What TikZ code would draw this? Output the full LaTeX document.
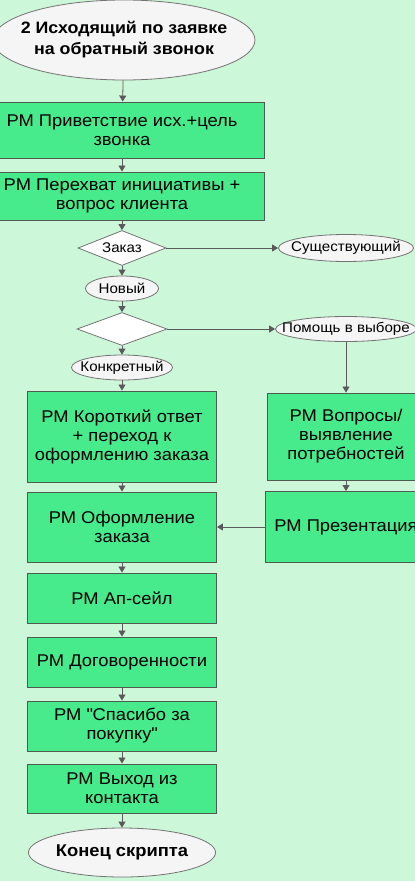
\documentclass[tikz,border=0pt]{standalone}
\usepackage{fontspec}
\setmainfont{Liberation Sans}[FakeStretch=1.08]
\usetikzlibrary{shapes.geometric,arrows.meta}
\definecolor{bgcol}{HTML}{CCF7D8}
\definecolor{boxcol}{HTML}{48EB8C}
\definecolor{edgecol}{HTML}{4E5A52}
\definecolor{linecol}{HTML}{5A5A5A}
\begin{document}
\begin{tikzpicture}[x=1pt,y=-1pt,
    stepbox/.style={rectangle,draw=edgecol,line width=0.9pt,fill=boxcol,align=center,
        inner sep=0pt,font=\fontsize{17}{19}\selectfont},
    oval/.style={ellipse,draw=black!55,line width=0.8pt,fill=black!4,inner sep=0pt,
        font=\fontsize{14}{16}\selectfont},
    choice/.style={diamond,draw=black!55,line width=0.8pt,fill=white,inner sep=0pt,
        font=\fontsize{14}{16}\selectfont},
    arr/.style={draw=linecol,line width=0.8pt,-{Triangle[length=6pt,width=7pt]}}]
        \fill[bgcol] (0,0) rectangle (415,881);
        \useasboundingbox (0,0) rectangle (415,881);

        \node[oval,minimum width=262pt,minimum height=80pt,
            font=\bfseries\fontsize{16.5}{21}\selectfont] (start) at (124,40)
            {\makebox[0pt]{\begin{tabular}{@{}c@{}}2 Исходящий по заявке\\на обратный звонок\end{tabular}}};

        \node[stepbox,minimum width=284pt,minimum height=56pt] (greet) at (122,130)
            {РМ Приветствие исх.+цель\\звонка};
        \node[stepbox,minimum width=284pt,minimum height=48pt] (catch) at (122,196)
            {РМ Перехват инициативы +\\вопрос клиента};

        \node[choice,minimum width=88pt,minimum height=35pt] (order) at (122,248)
            {\makebox[0pt]{Заказ}};
        \node[oval,minimum width=135pt,minimum height=27pt] (old) at (346,248)
            {\makebox[0pt]{Существующий}};
        \node[oval,minimum width=73pt,minimum height=25pt] (new) at (122,288.5)
            {\makebox[0pt]{Новый}};

        \node[choice,minimum width=90pt,minimum height=33pt] (kind) at (122,329) {};
        \node[oval,minimum width=141pt,minimum height=25pt] (help) at (346,329)
            {\makebox[0pt]{Помощь в выборе}};
        \node[oval,minimum width=101pt,minimum height=25pt] (exact) at (122,367.5)
            {\makebox[0pt]{Конкретный}};

        \node[stepbox,minimum width=189pt,minimum height=91pt] (short) at (122,436.5)
            {РМ Короткий ответ\\+ переход к\\оформлению заказа};
        \node[stepbox,minimum width=158pt,minimum height=87pt] (quest) at (346,436.5)
            {РМ Вопросы/\\выявление\\потребностей};
        \node[stepbox,minimum width=189pt,minimum height=70pt] (form) at (122,527)
            {РМ Оформление\\заказа};
        \node[stepbox,minimum width=162pt,minimum height=71pt] (pres) at (346,527)
            {РМ Презентация};
        \node[stepbox,minimum width=189pt,minimum height=50pt] (upsell) at (122,598)
            {РМ Ап-сейл};
        \node[stepbox,minimum width=189pt,minimum height=50pt] (deal) at (122,662)
            {РМ Договоренности};
        \node[stepbox,minimum width=189pt,minimum height=50pt] (thanks) at (122,726)
            {РМ \textquotedbl Спасибо за\\покупку\textquotedbl};
        \node[stepbox,minimum width=189pt,minimum height=49pt] (leave) at (122,788.5)
            {РМ Выход из\\контакта};
        \node[oval,minimum width=179pt,minimum height=49pt,
            font=\bfseries\fontsize{17}{20}\selectfont] (stop) at (122,852.5)
            {Конец скрипта};

        \draw[arr] (start) -- (greet);
        \draw[arr] (greet) -- (catch);
        \draw[arr] (catch) -- (order);
        \draw[arr] (order) -- (old);
        \draw[arr] (order) -- (new);
        \draw[arr] (new) -- (kind);
        \draw[arr] (kind) -- (help);
        \draw[arr] (kind) -- (exact);
        \draw[arr] (exact) -- (short);
        \draw[arr] (help) -- (quest);
        \draw[arr] (short) -- (form);
        \draw[arr] (quest) -- (pres);
        \draw[arr] (pres) -- (form);
        \draw[arr] (form) -- (upsell);
        \draw[arr] (upsell) -- (deal);
        \draw[arr] (deal) -- (thanks);
        \draw[arr] (thanks) -- (leave);
        \draw[arr] (leave) -- (stop);
\end{tikzpicture}
\end{document}
